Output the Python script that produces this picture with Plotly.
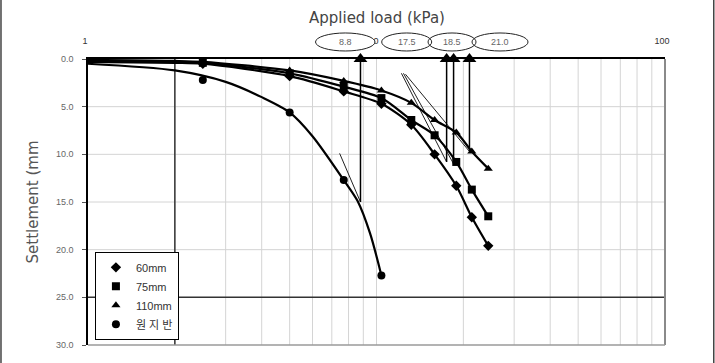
import plotly.graph_objects as go

# ---------------- data ----------------
loads = [2.5, 5.0, 7.7, 10.4, 13.2, 15.9, 18.9, 21.4, 24.4]
s_60 = [0.5, 1.8, 3.4, 4.7, 6.9, 10.0, 13.3, 16.6, 19.6]
s_75 = [0.4, 1.5, 2.9, 4.1, 6.4, 8.0, 10.8, 13.7, 16.5]
s_110 = [0.3, 1.2, 2.3, 3.3, 4.6, 6.4, 7.7, 9.7, 11.5]
loads_ground = [2.5, 5.0, 7.7, 10.4]
s_ground = [2.2, 5.6, 12.7, 22.7]

# fitted curves
curve_x = [1, 2, 2.5, 5.0, 7.7, 10.4, 13.2, 15.9, 18.9, 21.4, 24.4]
curve_60 = [0.3, 0.4, 0.5, 1.8, 3.4, 4.7, 6.9, 10.0, 13.3, 16.6, 19.6]
curve_75 = [0.2, 0.3, 0.4, 1.5, 2.9, 4.1, 6.4, 8.0, 10.8, 13.7, 16.5]
curve_110 = [0.1, 0.2, 0.3, 1.2, 2.3, 3.3, 4.6, 6.4, 7.7, 9.7, 11.5]
curve_gx = [1, 2, 3, 4, 5, 6, 7.7, 8.6, 9.5, 10.4]
curve_gy = [0.5, 1.2, 2.4, 4.0, 5.6, 8.1, 12.7, 14.9, 18.3, 22.7]

# tangent lines (start, end)
tangent_x = [[7.45, 8.8], [12.2, 17.5], [12.4, 18.5], [12.6, 21.0]]
tangent_y = [[9.9, 15.0], [1.5, 10.8], [1.5, 11.0], [1.6, 9.7]]

# yield loads (arrows) and where the arrows start
yield_loads = [8.8, 17.5, 18.5, 21.0]
yield_settle = [15.0, 10.8, 11.0, 9.7]
yield_labels = ["8.8", "17.5", "18.5", "21.0"]

y_ticks = [0, 5, 10, 15, 20, 25, 30]
x_ticks = [1, 10, 100]
x_minor = [2, 3, 4, 5, 6, 7, 8, 9, 20, 30, 40, 50, 60, 70, 80, 90]

names = ["60mm", "75mm", "110mm", "원 지 반"]
symbols = ["diamond", "square", "triangle-up", "circle"]

FONT = "Liberation Sans, Arial, Noto Sans CJK KR, sans-serif"
WIDE = "DejaVu Sans, Liberation Sans, sans-serif"

fig = go.Figure()

# light grid lines
for xv in x_minor + [10]:
    fig.add_shape(type="line", xref="x", yref="y", x0=xv, x1=xv, y0=0, y1=30,
                  line=dict(color="#d4d4d4", width=1), layer="below")
for yv in [5, 10, 15, 20]:
    fig.add_shape(type="line", xref="x", yref="y", x0=1, x1=100, y0=yv, y1=yv,
                  line=dict(color="#d4d4d4", width=1), layer="below")

# dark cross lines (x=2, y=25)
fig.add_shape(type="line", xref="x", yref="y", x0=2, x1=2, y0=0, y1=30,
              line=dict(color="#333333", width=1.5), layer="below")
fig.add_shape(type="line", xref="x", yref="y", x0=1, x1=100, y0=25, y1=25,
              line=dict(color="#333333", width=1.5), layer="below")

# tangent lines
for tx, ty in zip(tangent_x, tangent_y):
    fig.add_trace(go.Scatter(x=tx, y=ty, mode="lines", showlegend=False,
                             line=dict(color="#222", width=1), hoverinfo="skip"))

# arrows
for xl, ys in zip(yield_loads, yield_settle):
    fig.add_trace(go.Scatter(x=[xl, xl], y=[ys, 0], mode="lines", showlegend=False,
                             line=dict(color="black", width=1.5), hoverinfo="skip"))
fig.add_trace(go.Scatter(x=yield_loads, y=[0] * len(yield_loads), mode="markers",
                         showlegend=False, cliponaxis=False,
                         marker=dict(symbol="triangle-up", size=12, color="black"),
                         hoverinfo="skip"))

# curves
for cy in [curve_60, curve_75, curve_110]:
    fig.add_trace(go.Scatter(x=curve_x, y=cy, mode="lines", showlegend=False,
                             line=dict(color="black", width=2.2, shape="spline", smoothing=0.8),
                             hoverinfo="skip"))
fig.add_trace(go.Scatter(x=curve_gx, y=curve_gy, mode="lines", showlegend=False,
                         line=dict(color="black", width=2.2, shape="spline", smoothing=0.8),
                         hoverinfo="skip"))

# data markers
for nm, sym, xs, ys in zip(names, symbols,
                           [loads, loads, loads, loads_ground],
                           [s_60, s_75, s_110, s_ground]):
    fig.add_trace(go.Scatter(x=xs, y=ys, mode="markers", name=nm,
                             marker=dict(symbol=sym, size=8, color="black")))

# plot frame right / bottom (gray)
fig.add_shape(type="line", xref="paper", yref="paper", x0=1, x1=1, y0=0, y1=1,
              line=dict(color="#8a8a8a", width=2))
fig.add_shape(type="line", xref="paper", yref="paper", x0=0, x1=1, y0=0, y1=0,
              line=dict(color="#9a9a9a", width=1.5))

# chart outer border left/right
fig.add_shape(type="line", xref="paper", yref="paper", x0=-0.1508, x1=-0.1508, y0=-0.07, y1=1.21,
              line=dict(color="#444", width=1.5))
fig.add_shape(type="line", xref="paper", yref="paper", x0=1.0845, x1=1.0845, y0=-0.07, y1=1.21,
              line=dict(color="#444", width=1.5))

# ellipses with yield load labels
ell_x = [(0.3943, 0.4974), (0.5090, 0.5957), (0.5893, 0.6725), (0.6655, 0.7626)]
fills = ["white", "rgba(255,255,255,0)", "rgba(255,255,255,0)", "rgba(255,255,255,0)"]
for (x0, x1), fc, lab in zip(ell_x, fills, yield_labels):
    fig.add_shape(type="circle", xref="paper", yref="paper", x0=x0, x1=x1,
                  y0=1.028, y1=1.091, line=dict(color="#222", width=1),
                  fillcolor=fc, layer="above")
    fig.add_annotation(xref="paper", yref="paper", x=(x0 + x1) / 2, y=1.0595,
                       xanchor="center", yanchor="middle",
                       text=lab, showarrow=False,
                       font=dict(family=FONT, size=9, color="#666"))

fig.add_annotation(xref="paper", yref="paper", x=0.5, y=1.143, yanchor="middle",
                   text="Applied load (kPa)", showarrow=False,
                   font=dict(family=WIDE, size=15, color="#444"))

fig.update_layout(
    width=715, height=363,
    margin=dict(l=88, r=50, t=59, b=18),
    paper_bgcolor="white", plot_bgcolor="white",
    font=dict(family=FONT, color="#333"),
    showlegend=True,
    legend=dict(x=0.012, y=0.018, xanchor="left", yanchor="bottom",
                bgcolor="white", bordercolor="black", borderwidth=1,
                font=dict(family=FONT, size=11, color="#333"),
                itemwidth=30, tracegroupgap=0),
    xaxis=dict(type="log", range=[0, 2], side="top", tickvals=x_ticks,
               ticktext=[str(v) for v in x_ticks], showgrid=False,
               showline=True, linecolor="black", linewidth=2, ticks="",
               ticklabelstandoff=9, ticklabelshift=-3,
               tickfont=dict(family=FONT, size=9, color="#333"), zeroline=False),
    yaxis=dict(range=[30, 0], tickvals=y_ticks, tickformat=".1f", showgrid=False,
               showline=True, linecolor="black", linewidth=1.5,
               ticks="outside", ticklen=4, tickcolor="#555",
               ticklabelstandoff=7,
               tickfont=dict(family=FONT, size=9, color="#666"), zeroline=False,
               title=dict(text="Settlement (mm", standoff=14,
                          font=dict(family=WIDE, size=15, color="#555"))),
)

fig.write_html("out.html")
